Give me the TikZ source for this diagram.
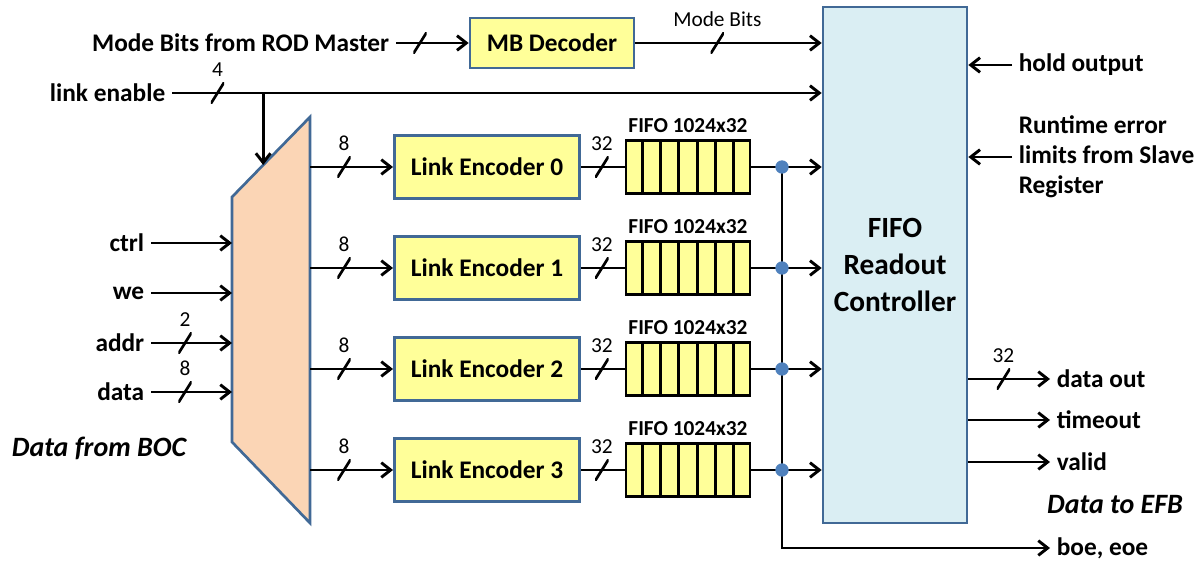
\documentclass[tikz,border=0pt]{standalone}
\usepackage{fontspec}
\setmainfont{Carlito}
\usetikzlibrary{arrows.meta,calc}

\definecolor{boxyellow}{RGB}{255,255,153}
\definecolor{boxedge}{RGB}{65,105,150}
\definecolor{ctrlblue}{RGB}{218,238,243}
\definecolor{muxpeach}{RGB}{251,213,181}
\definecolor{dotblue}{RGB}{79,129,189}

\begin{document}
\begin{tikzpicture}[x=0.75pt,y=-0.75pt,line width=2.2pt,>={Straight Barb[length=7pt,width=11pt]},
  sig/.style={font=\fontsize{19}{22.5}\selectfont\bfseries,inner sep=4pt},
  num/.style={font=\fontsize{16}{18}\selectfont,inner sep=1pt},
  fifolbl/.style={font=\fontsize{16}{18}\selectfont\bfseries},
  ital/.style={font=\fontsize{21}{24}\selectfont\bfseries\itshape},
  block/.style={draw=boxedge,fill=boxyellow,line width=2pt,font=\fontsize{19}{22}\selectfont\bfseries},
  fifo/.style={draw,fill=boxyellow,line width=2.2pt,minimum width=93pt,minimum height=40pt},
  busmark/.style={inner sep=0,minimum width=10pt,minimum height=16pt,
    path picture={\draw[-,line width=2pt] (path picture bounding box.south west) -- (path picture bounding box.north east);}},
  dot/.style={circle,fill=dotblue,inner sep=0,minimum size=10pt}]
  \useasboundingbox (0,0) rectangle (1202,560);
  % Controller
  \node[draw=boxedge,fill=ctrlblue,line width=2pt,minimum width=108pt,minimum height=387pt,
    align=center,font=\fontsize{22}{28}\selectfont\bfseries] (ctrl) at (895,265) {FIFO\\Readout\\Controller};
  % Mode Bits
  \node[block,minimum width=123pt,minimum height=37.5pt] (mbdec) at (552,43) {MB Decoder};
  \node[sig,anchor=east] (modein) at (396,43) {Mode Bits from ROD Master};
  \draw[->] (modein.east) -- node[busmark,pos=.33] {} (mbdec.west);
  \draw[->] (mbdec.east) -- node[busmark,pos=.44,label={[num,label distance=1pt]above:Mode Bits}] {} (ctrl.west |- mbdec);
  % Multiplexer
  \draw[draw=boxedge,fill=muxpeach,line width=2pt] (310,117) coordinate (muxTR) -- (232,197) coordinate (muxTL)
    -- (232,442) coordinate (muxBL) -- (310,523) coordinate (muxBR) -- cycle;
  \coordinate (muxsel) at ($(muxTR)!.6!(muxTL)$);
  % link enable
  \node[sig,anchor=east] (linken) at (172,93) {link enable};
  \draw[->] (linken.east) -- node[busmark,pos=.07,label={[num,label distance=1pt]above:4}] {} (ctrl.west |- linken);
  \draw[->] (muxsel |- linken) -- (muxsel);
  % Eingaenge
  \foreach \n/\t/\y in {ctrlin/ctrl/243,wein/we/293,addrin/addr/343,datain/data/392}
    \node[sig,anchor=east] (\n) at (151,\y) {\t};
  \draw[->] (ctrlin.east) -- (muxBL |- ctrlin);
  \draw[->] (wein.east) -- (muxBL |- wein);
  \draw[->] (addrin.east) -- node[busmark,pos=.42,label={[num,label distance=1pt]above:2}] {} (muxBL |- addrin);
  \draw[->] (datain.east) -- node[busmark,pos=.42,label={[num,label distance=1pt]above:8}] {} (muxBL |- datain);
  \node[ital] (boc) at (99,448) {Data from BOC};
  % Ausgaenge rechts
  \node[sig,anchor=west] (hold) at (1012,65) {hold output};
  \node[sig,anchor=west,align=left] (rterr) at (1012,157) {Runtime error\\limits from Slave\\Register};
  \draw[->] (hold.west) -- (ctrl.east |- hold);
  \draw[->] (rterr.west) -- (ctrl.east |- rterr);
  \node[sig,anchor=west] (dout) at (1050,379) {data out};
  \node[sig,anchor=west] (tout) at (1050,420) {timeout};
  \node[sig,anchor=west] (valid) at (1050,462) {valid};
  \node[sig,anchor=west] (boe) at (1050,548) {boe, eoe};
  \node[ital] (efb) at (1115,505) {Data to EFB};
  \draw[->] (ctrl.east |- dout) -- node[busmark,pos=.43,label={[num,label distance=1pt]above:32}] {} (dout.west);
  \draw[->] (ctrl.east |- tout) -- (tout.west);
  \draw[->] (ctrl.east |- valid) -- (valid.west);
  % Sammelleitung
  \coordinate (bus) at (782,167);
  \draw[->] (bus) -- (bus |- boe) -- (boe.west);
  % Encoder und FIFOs
  \foreach \i/\y in {0/167,1/268,2/369,3/470} {
    \node[block,minimum width=139pt,minimum height=47pt] (enc\i) at (487,\y) {Link Encoder \i};
    \node[fifo,label={[fifolbl]above:FIFO 1024x32}] (fifo\i) at (688,\y) {};
    \foreach \k in {1,...,6}
      \draw ($(fifo\i.south west)!\k/7!(fifo\i.south east)$) -- ($(fifo\i.north west)!\k/7!(fifo\i.north east)$);
    \draw[->] (muxTR |- enc\i) -- node[busmark,pos=.41,label={[num,label distance=1pt]above:8}] {} (enc\i.west);
    \draw (enc\i.east) -- node[busmark,pos=.48,label={[num,label distance=1pt]above:32}] {} (fifo\i.west);
    \draw[->] (fifo\i.east) -- (ctrl.west |- fifo\i);
    \node[dot] (dot\i) at (bus |- fifo\i) {};
  }
\end{tikzpicture}
\end{document}
